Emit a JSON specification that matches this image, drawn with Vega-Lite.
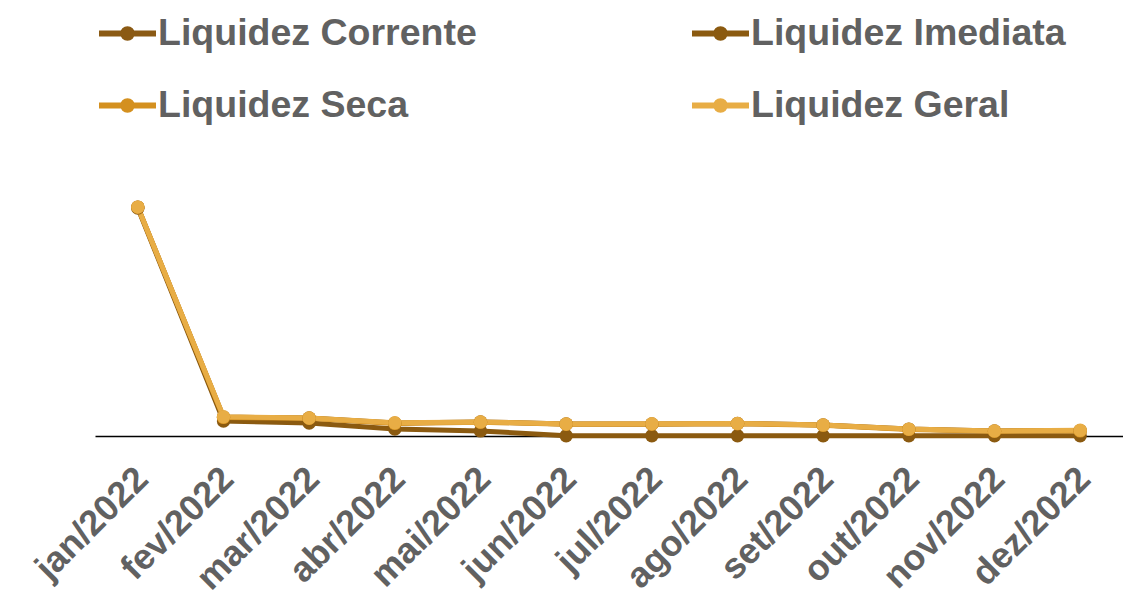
{
  "$schema": "https://vega.github.io/schema/vega-lite/v6.json",
  "width": 1028,
  "height": 300,
  "autosize": {"type": "none"},
  "padding": {"left": 95, "top": 136, "right": 0, "bottom": 154},
  "background": "white",
  "config": {"view": {"stroke": null}, "font": "Liberation Sans"},
  "data": {"values": [
    {"mes": "jan/2022", "serie": "Liquidez Corrente", "valor": 7.63},
    {"mes": "fev/2022", "serie": "Liquidez Corrente", "valor": 0.63},
    {"mes": "mar/2022", "serie": "Liquidez Corrente", "valor": 0.6},
    {"mes": "abr/2022", "serie": "Liquidez Corrente", "valor": 0.43},
    {"mes": "mai/2022", "serie": "Liquidez Corrente", "valor": 0.47},
    {"mes": "jun/2022", "serie": "Liquidez Corrente", "valor": 0.4},
    {"mes": "jul/2022", "serie": "Liquidez Corrente", "valor": 0.4},
    {"mes": "ago/2022", "serie": "Liquidez Corrente", "valor": 0.42},
    {"mes": "set/2022", "serie": "Liquidez Corrente", "valor": 0.37},
    {"mes": "out/2022", "serie": "Liquidez Corrente", "valor": 0.23},
    {"mes": "nov/2022", "serie": "Liquidez Corrente", "valor": 0.17},
    {"mes": "dez/2022", "serie": "Liquidez Corrente", "valor": 0.18},
    {"mes": "jan/2022", "serie": "Liquidez Imediata", "valor": 7.6},
    {"mes": "fev/2022", "serie": "Liquidez Imediata", "valor": 0.5},
    {"mes": "mar/2022", "serie": "Liquidez Imediata", "valor": 0.43},
    {"mes": "abr/2022", "serie": "Liquidez Imediata", "valor": 0.23},
    {"mes": "mai/2022", "serie": "Liquidez Imediata", "valor": 0.17},
    {"mes": "jun/2022", "serie": "Liquidez Imediata", "valor": 0.01},
    {"mes": "jul/2022", "serie": "Liquidez Imediata", "valor": 0.01},
    {"mes": "ago/2022", "serie": "Liquidez Imediata", "valor": 0.01},
    {"mes": "set/2022", "serie": "Liquidez Imediata", "valor": 0.01},
    {"mes": "out/2022", "serie": "Liquidez Imediata", "valor": 0.01},
    {"mes": "nov/2022", "serie": "Liquidez Imediata", "valor": 0.01},
    {"mes": "dez/2022", "serie": "Liquidez Imediata", "valor": 0.01},
    {"mes": "jan/2022", "serie": "Liquidez Seca", "valor": 7.63},
    {"mes": "fev/2022", "serie": "Liquidez Seca", "valor": 0.62},
    {"mes": "mar/2022", "serie": "Liquidez Seca", "valor": 0.59},
    {"mes": "abr/2022", "serie": "Liquidez Seca", "valor": 0.42},
    {"mes": "mai/2022", "serie": "Liquidez Seca", "valor": 0.46},
    {"mes": "jun/2022", "serie": "Liquidez Seca", "valor": 0.39},
    {"mes": "jul/2022", "serie": "Liquidez Seca", "valor": 0.39},
    {"mes": "ago/2022", "serie": "Liquidez Seca", "valor": 0.41},
    {"mes": "set/2022", "serie": "Liquidez Seca", "valor": 0.36},
    {"mes": "out/2022", "serie": "Liquidez Seca", "valor": 0.22},
    {"mes": "nov/2022", "serie": "Liquidez Seca", "valor": 0.16},
    {"mes": "dez/2022", "serie": "Liquidez Seca", "valor": 0.17},
    {"mes": "jan/2022", "serie": "Liquidez Geral", "valor": 7.63},
    {"mes": "fev/2022", "serie": "Liquidez Geral", "valor": 0.64},
    {"mes": "mar/2022", "serie": "Liquidez Geral", "valor": 0.6},
    {"mes": "abr/2022", "serie": "Liquidez Geral", "valor": 0.44},
    {"mes": "mai/2022", "serie": "Liquidez Geral", "valor": 0.47},
    {"mes": "jun/2022", "serie": "Liquidez Geral", "valor": 0.4},
    {"mes": "jul/2022", "serie": "Liquidez Geral", "valor": 0.41},
    {"mes": "ago/2022", "serie": "Liquidez Geral", "valor": 0.42},
    {"mes": "set/2022", "serie": "Liquidez Geral", "valor": 0.37},
    {"mes": "out/2022", "serie": "Liquidez Geral", "valor": 0.23},
    {"mes": "nov/2022", "serie": "Liquidez Geral", "valor": 0.17},
    {"mes": "dez/2022", "serie": "Liquidez Geral", "valor": 0.19}
  ]},
  "mark": {"type": "line", "strokeWidth": 5, "point": {"filled": true, "size": 180}},
  "encoding": {
    "x": {
      "field": "mes", "type": "nominal", "sort": null,
      "scale": {"type": "point", "padding": 0.5},
      "axis": {
        "title": null, "labelAngle": -45, "labelFontSize": 36, "labelFontWeight": "bold",
        "labelColor": "#616161", "labelFont": "Liberation Sans", "labelPadding": 37,
        "labelOffset": 4,
        "labelAlign": "right", "labelBaseline": "middle",
        "ticks": false, "grid": false, "domainColor": "#000000", "domainWidth": 1.5
      }
    },
    "y": {
      "field": "valor", "type": "quantitative",
      "scale": {"domain": [0, 10], "nice": false, "zero": true},
      "axis": null
    },
    "color": {
      "field": "serie", "type": "nominal",
      "scale": {
        "domain": ["Liquidez Corrente", "Liquidez Imediata", "Liquidez Seca", "Liquidez Geral"],
        "range": ["#8B5A14", "#8B5A10", "#D4901F", "#E8AD45"]
      },
      "legend": {
        "title": null, "orient": "none", "legendX": 1, "legendY": -134,
        "direction": "horizontal", "columns": 2, "columnPadding": 203, "rowPadding": 22,
        "labelFontSize": 37.5, "labelFontWeight": "bold", "labelColor": "#616161",
        "labelFont": "Liberation Sans", "labelLimit": 600, "labelOffset": -1,
        "symbolType": "M-1,0H1M-0.15,0A0.15,0.15 0 1,0 0.15,0A0.15,0.15 0 1,0 -0.15,0Z",
        "symbolSize": 3249, "symbolStrokeWidth": 6,
        "encode": {"symbols": {"update": {
          "fill": {"signal": "scale('color', datum.value)"},
          "stroke": {"signal": "scale('color', datum.value)"},
          "opacity": {"value": 1}
        }}}
      }
    }
  }
}
